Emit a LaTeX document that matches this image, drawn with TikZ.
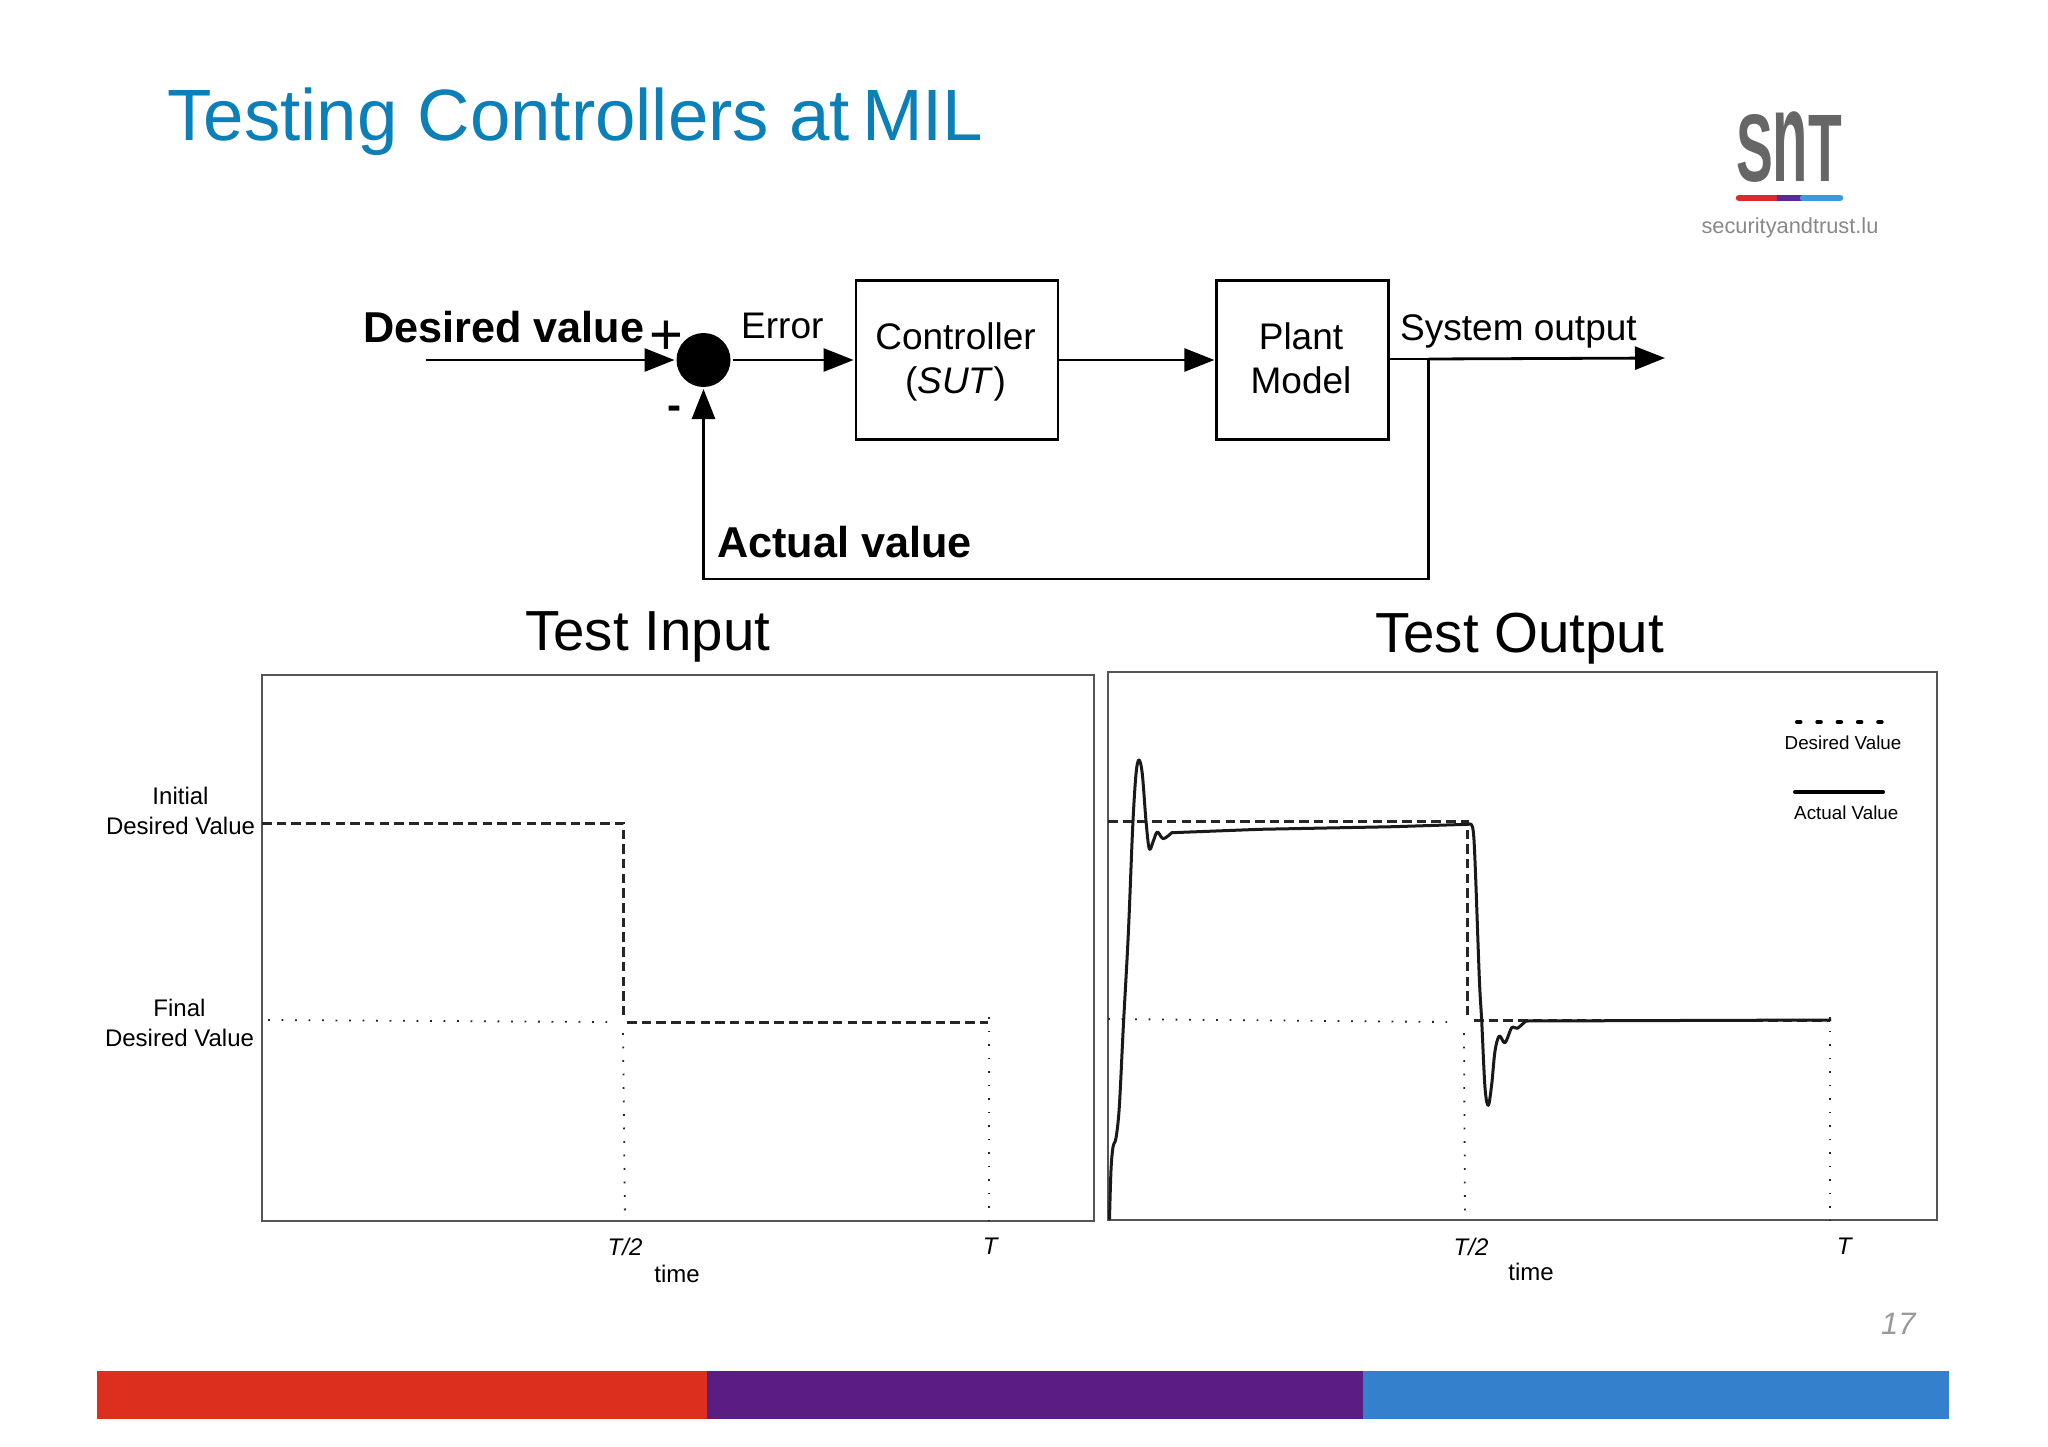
\documentclass[tikz,border=0pt]{standalone}
\usepackage{fontspec}
\usepackage{graphicx}
\setmainfont{Liberation Sans}
\usetikzlibrary{arrows.meta}
\definecolor{titleblue}{RGB}{ 10 127 184}
\definecolor{panelgrey}{RGB}{ 85  85  85}
\definecolor{logogrey}{RGB}{102 102 102}
\definecolor{urlgrey}{RGB}{136 136 136}
\definecolor{pagegrey}{RGB}{153 153 153}
\definecolor{barred}{RGB}{220  47  30}
\definecolor{barpurple}{RGB}{ 90  29 130}
\definecolor{barblue}{RGB}{ 53 128 204}
\definecolor{logored}{RGB}{224  42  42}
\definecolor{logopurple}{RGB}{ 90  42 154}
\definecolor{logoblue}{RGB}{ 58 154 224}
\newcommand{\firstline}{\rule{0pt}{36.8pt}}
\tikzstyle{block} = [rectangle, draw=black, line width=2.8pt, minimum height=159pt, align=center, font=\fontsize{37}{44}\selectfont]
\tikzstyle{sumdot} = [circle, fill=black, minimum size=54pt, inner sep=0pt, outer sep=2pt]
\tikzstyle{arrow} = [line width=2.8pt, -{Triangle[length=30pt, width=23pt]}]
\tikzstyle{wire} = [line width=2.8pt]
\tikzstyle{lbl} = [inner sep=0pt, anchor=base west, font=\fontsize{37}{44}\selectfont]
\tikzstyle{boldlbl} = [lbl, font=\fontsize{43.2}{50}\selectfont\bfseries]
\tikzstyle{headlbl} = [inner sep=0pt, anchor=base west, font=\fontsize{56.5}{66}\selectfont]
\tikzstyle{axlbl} = [inner sep=0pt, anchor=base, font=\fontsize{24}{30}\selectfont]
\tikzstyle{sidelbl} = [inner sep=0pt, align=center, font=\fontsize{24}{30}\selectfont]
\tikzstyle{keylbl} = [inner sep=0pt, anchor=base west, font=\fontsize{18.8}{22}\selectfont]
\tikzstyle{panel} = [draw=panelgrey, line width=2pt]
\tikzstyle{step line} = [line width=3pt, black!85, dash pattern=on 9.5pt off 5.2pt]
\tikzstyle{guide} = [line width=1.8pt, black!85, dash pattern=on 1.8pt off 11.7pt]
\tikzstyle{response} = [line width=3pt, black!90, line join=round, line cap=round]

\begin{document}
\begin{tikzpicture}[x=1pt, y=-1pt]
    \useasboundingbox (0,0) rectangle (2048,1447);

    \node (title) [inner sep=0pt, anchor=base west, titleblue, font=\fontsize{72.7}{86}\selectfont] at (167,141) {Testing Controllers at\hspace{-8pt} MIL};
    \node (logo) [inner sep=0pt, anchor=base, logogrey, xscale=0.575, font=\fontsize{96}{110}\selectfont\bfseries] at (1789,182) {S\scalebox{1.05}[1.35]{n}T};
    \draw [line width=6.5pt, line cap=round, logored] (1739,198) -- (1777,198);
    \draw [line width=6.5pt, logopurple] (1777,198) -- (1803,198);
    \draw [line width=6.5pt, line cap=round, logoblue] (1803,198) -- (1840,198);
    \node (url) [inner sep=0pt, anchor=base, urlgrey, font=\fontsize{21.8}{26}\selectfont] at (1790,234) {securityandtrust.lu};

    \node (sum) [sumdot] at (703.5,360) {};
    \node (ctrl) [block, minimum width=202pt] at (957,360) {\firstline\hspace{-3pt}Controller\\\strut\hspace{-3pt}(\textit{SUT})};
    \node (plant) [block, right of=ctrl, node distance=345.5pt, minimum width=171.5pt] {\firstline\hspace{-3pt}Plant\\\strut\hspace{-3pt}Model};
    \coordinate (in) at (426,360);
    \coordinate (branch) at (1428.5,359);
    \coordinate (out) at (1665,358);
    \coordinate (corner) at (703.5,579);
    \draw [arrow] (in) -- (sum);
    \draw [arrow, shorten >=1pt] (sum) -- (ctrl);
    \draw [arrow, shorten >=1pt] (ctrl) -- (plant);
    \draw [wire] (plant.east |- branch) -- (branch);
    \draw [arrow] (branch) -- (out);
    \draw [arrow, line join=miter] (branch) |- (corner) -- (sum);

    \node (desired) [boldlbl] at (363,342) {Desired value};
    \node (plus) [inner sep=0pt, font=\fontsize{58}{60}\selectfont] at (666,338) {+};
    \node (minus) [inner sep=0pt, font=\fontsize{42}{50}\selectfont\bfseries] at (674,413) {-};
    \node (error) [lbl] at (741,338) {Error};
    \node (sysout) [lbl] at (1400,340.5) {System output};
    \node (actual) [boldlbl] at (717,557) {Actual value};

    \node (inhead) [headlbl] at (525,650.5) {Test Input};
    \node (outhead) [headlbl] at (1375,652.5) {Test Output};

    \draw [panel] (262,675) rectangle (1094,1221);
    \draw [panel] (1108,672) rectangle (1937,1220);

    \draw [step line] (262,823) -- (623,823) -- (623,1020);
    \draw [step line] (627,1022) -- (988,1022);
    \draw [guide] (268,1020) -- (607,1022);
    \draw [guide] (623,1033) -- (625,1221);
    \draw [guide] (989,1017) -- (989,1221);

    \draw [step line] (1108,821) -- (1467,821) -- (1467,1020);
    \draw [step line] (1474,1020) -- (1830,1020);
    \draw [guide] (1108,1019) -- (1447,1022);
    \draw [guide] (1464,1033) -- (1465,1220);
    \draw [guide] (1830,1017) -- (1830,1220);

    \draw [response]
        plot [smooth, tension=0.55] coordinates {(1109.5,1219) (1111,1170) (1113,1147) (1116,1138) (1119.3,1107) (1123.3,1027) (1128.3,934) (1132.7,827) (1136,774) (1139,760) (1142.3,774) (1146,821) (1149.3,849) (1153.3,841) (1157.3,832) (1163.3,838.7) (1171.7,832.7)}
        -- (1260,829.3) -- (1393.3,826.7) -- (1468.3,824.3)
        plot [smooth, tension=0.55] coordinates {(1468.3,824.3) (1472.7,827.7) (1475,861) (1479.3,977.7) (1481.7,1021) (1485,1087.7) (1488.3,1105.3) (1491.7,1084.3) (1495,1051) (1499.3,1036) (1505,1042.7) (1511.7,1027.7) (1517.3,1028.3) (1525.7,1021)}
        -- (1830,1020);

    \node (initial) [sidelbl] at (180.5,813) {\strut Initial\\\strut Desired Value};
    \node (final) [sidelbl] at (179.5,1025) {\strut Final\\\strut Desired Value};

    \node (halfa) [axlbl] at (625,1255) {\textit{T/2}};
    \node (enda) [axlbl] at (991,1254) {\textit{T}};
    \node (timea) [axlbl] at (677,1282) {time};
    \node (halfb) [axlbl] at (1471,1255) {\textit{T/2}};
    \node (endb) [axlbl] at (1845,1254) {\textit{T}};
    \node (timeb) [axlbl] at (1531,1280) {time};

    \draw [line width=4pt, line cap=round, dash pattern=on 3.5pt off 16.8pt] (1797,722) -- (1884,722);
    \node (keya) [keylbl] at (1784.5,749) {Desired Value};
    \draw [line width=4pt, line cap=round] (1795,792) -- (1883,792);
    \node (keyb) [keylbl] at (1794,819) {Actual Value};

    \node (page) [inner sep=0pt, anchor=base west, pagegrey, font=\fontsize{31}{36}\selectfont\itshape] at (1881,1334) {17};

    \fill [barred] (97,1371) rectangle (707,1419);
    \fill [barpurple] (707,1371) rectangle (1363,1419);
    \fill [barblue] (1363,1371) rectangle (1949,1419);
\end{tikzpicture}
\end{document}
